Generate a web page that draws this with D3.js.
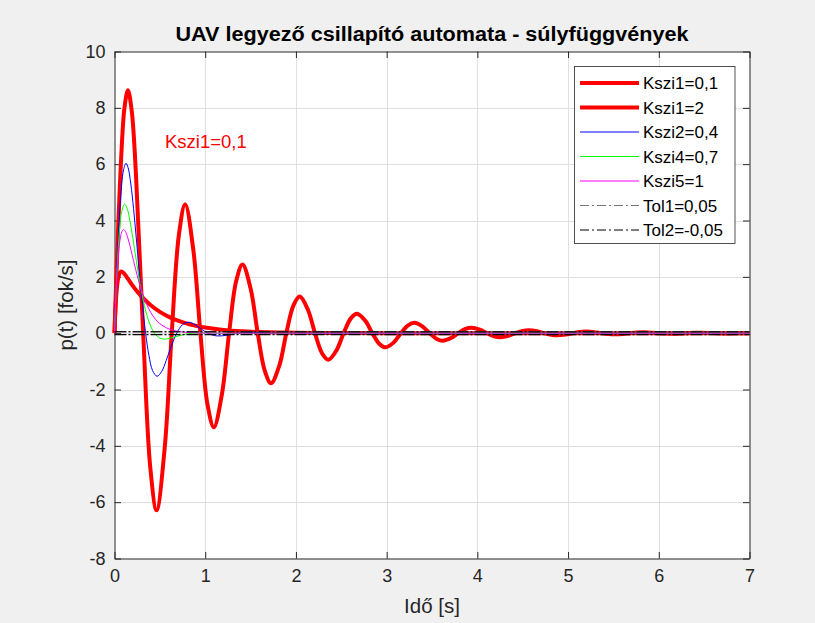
<!DOCTYPE html>
<html>
<head>
<meta charset="utf-8">
<script src="https://cdn.jsdelivr.net/npm/d3@7/dist/d3.min.js"></script>
<style>
  html, body { margin: 0; padding: 0; background: #f0f0f0; }
  svg { display: block; }
  text { font-family: "Liberation Sans", Arial, Helvetica, sans-serif; }
</style>
</head>
<body>
<svg id="chart" width="815" height="623"></svg>
<script>
// Impulse responses (weight functions) of the yaw damper, sampled [t (s), p(t) (deg/s)]
const kszi1_01 = [[0,0],[0.03,2.87],[0.079,6.57],[0.11,8.0],[0.148,8.62],[0.19,7.89],[0.237,5.61],[0.316,0],
  [0.395,-4.79],[0.464,-6.29],[0.553,-4.09],[0.631,0],[0.710,3.49],[0.779,4.58],[0.868,2.98],[0.947,0],
  [1.026,-2.55],[1.095,-3.34],[1.184,-2.17],[1.263,0],[1.342,1.86],[1.411,2.44],[1.500,1.59],[1.579,0],
  [1.658,-1.35],[1.726,-1.78],[1.816,-1.16],[1.894,0],[1.973,0.99],[2.042,1.30],[2.131,0.84],[2.210,0],
  [2.289,-0.72],[2.358,-0.946],[2.447,-0.61],[2.526,0],[2.605,0.525],[2.673,0.690],[2.763,0.448],[2.842,0],
  [2.921,-0.383],[2.989,-0.503],[3.079,-0.327],[3.157,0],[3.236,0.279],[3.305,0.367],[3.394,0.239],[3.473,0],
  [3.552,-0.204],[3.620,-0.268],[3.710,-0.174],[3.789,0],[3.868,0.149],[3.936,0.195],[4.026,0.127],[4.105,0],
  [4.184,-0.109],[4.252,-0.142],[4.342,-0.093],[4.420,0],[4.499,0.079],[4.567,0.104],[4.657,0.068],[4.736,0],
  [4.815,-0.058],[4.883,-0.076],[4.973,-0.049],[5.052,0],[5.131,0.042],[5.199,0.055],[5.289,0.036],[5.368,0],
  [5.447,-0.031],[5.514,-0.040],[5.604,-0.026],[5.683,0],[5.762,0.022],[5.830,0.029],[5.920,0.019],[5.999,0],
  [6.078,-0.016],[6.146,-0.021],[6.236,-0.014],[6.315,0],[6.394,0.012],[6.461,0.016],[6.551,0.010],[6.631,0],
  [6.710,-0.009],[6.777,-0.011],[6.867,-0.007],[6.946,0],[7.0,0.002]];

const kszi1_2 = [[0,0],[0.01,0.823],[0.02,1.368],[0.03,1.722],[0.04,1.945],[0.05,2.078],[0.06,2.151],
  [0.075,2.186],[0.09,2.168],[0.11,2.102],[0.13,2.015],[0.16,1.873],[0.2,1.688],[0.25,1.478],[0.3,1.293],
  [0.4,0.989],[0.5,0.756],[0.6,0.579],[0.7,0.443],[0.8,0.339],[0.9,0.259],[1.0,0.198],[1.2,0.116],
  [1.4,0.068],[1.6,0.040],[1.8,0.023],[2.0,0.014],[2.5,0.004],[3.0,0.001],[4.0,0],[5.5,0],[7.0,0]];

const kszi2_04 = [[0,0],[0.02,1.836],[0.04,3.333],[0.06,4.486],[0.08,5.302],[0.10,5.804],[0.1265,6.03],
  [0.15,5.873],[0.18,5.295],[0.21,4.417],[0.24,3.380],[0.27,2.290],[0.30,1.256],[0.343,0],[0.38,-0.799],
  [0.42,-1.328],[0.469,-1.53],[0.52,-1.361],[0.57,-0.971],[0.62,-0.516],[0.686,0],[0.75,0.303],[0.812,0.389],
  [0.87,0.334],[0.95,0.160],[1.028,0],[1.1,-0.083],[1.155,-0.099],[1.23,-0.077],[1.371,0],[1.497,0.025],
  [1.714,0],[1.84,-0.006],[2.057,0],[3,0],[5,0],[7,0]];

const kszi4_07 = [[0,0],[0.02,1.732],[0.04,2.982],[0.06,3.822],[0.08,4.324],[0.1114,4.58],[0.14,4.421],
  [0.17,3.991],[0.20,3.418],[0.24,2.583],[0.28,1.794],[0.33,0.981],[0.38,0.408],[0.44,0],[0.5,-0.176],
  [0.551,-0.211],[0.62,-0.175],[0.70,-0.100],[0.80,-0.028],[0.88,0],[0.99,0.010],[1.2,0],[3,0],[5,0],[7,0]];

const kszi5_1 = [[0,0],[0.02,1.637],[0.04,2.681],[0.06,3.293],[0.08,3.595],[0.10,3.679],[0.12,3.614],
  [0.15,3.347],[0.18,2.975],[0.21,2.572],[0.25,2.052],[0.30,1.494],[0.35,1.057],[0.40,0.733],[0.45,0.500],
  [0.50,0.337],[0.60,0.149],[0.70,0.064],[0.80,0.027],[0.90,0.011],[1.0,0.005],[1.2,0.001],[2,0],[4,0],[7,0]];

// Tolerance band limits
const tol1 = [[0,0.05],[7,0.05]];
const tol2 = [[0,-0.05],[7,-0.05]];

const seriesNames = ["Kszi1=0,1","Kszi1=2","Kszi2=0,4","Kszi4=0,7","Kszi5=1","Tol1=0,05","Tol2=-0,05"];
const xTicks = [0,1,2,3,4,5,6,7];
const yTicks = [-8,-6,-4,-2,0,2,4,6,8,10];
const titleText = "UAV legyező csillapító automata - súlyfüggvények";
const xLabelText = "Idő [s]";
const yLabelText = "p(t) [fok/s]";
const noteText = "Kszi1=0,1";

const series = [
  { name: seriesNames[0], data: kszi1_01, color: "#ff0000", width: 4,   dash: null,       legendColor: "#ff0000", legendDash: null },
  { name: seriesNames[1], data: kszi1_2,  color: "#ff0000", width: 4,   dash: null,       legendColor: "#ff0000", legendDash: null },
  { name: seriesNames[2], data: kszi2_04, color: "#0000ff", width: 1,   dash: null,       legendColor: "#0000ff", legendDash: null },
  { name: seriesNames[3], data: kszi4_07, color: "#00ff00", width: 1,   dash: null,       legendColor: "#00ff00", legendDash: null },
  { name: seriesNames[4], data: kszi5_1,  color: "#ff00ff", width: 1,   dash: null,       legendColor: "#ff00ff", legendDash: null },
  { name: seriesNames[5], data: tol1,     color: "#1a1a1a", width: 1.3, dash: "12,2,2,2", legendColor: "#777777", legendDash: "9,3,2,3" },
  { name: seriesNames[6], data: tol2,     color: "#000000", width: 1.3, dash: "12,2,2,2", legendColor: "#000000", legendDash: "9,3,2,3" }
];

const L = 114.5, R = 749.5, T = 51.5, B = 558.5;
const x = d3.scaleLinear().domain([0, 7]).range([L, R]);
const y = d3.scaleLinear().domain([-8, 10]).range([B, T]);

const svg = d3.select("#chart");
svg.append("rect").attr("width", 815).attr("height", 623).attr("fill", "#f0f0f0");
svg.append("rect").attr("x", L).attr("y", T).attr("width", R - L).attr("height", B - T).attr("fill", "#ffffff");

// grid
const grid = svg.append("g").attr("stroke", "#dfdfdf").attr("stroke-width", 1);
grid.selectAll(".gx").data(xTicks.slice(1, -1)).join("line")
  .attr("x1", d => Math.round(x(d)) + 0.5).attr("x2", d => Math.round(x(d)) + 0.5)
  .attr("y1", T).attr("y2", B);
grid.selectAll(".gy").data(yTicks.slice(1, -1)).join("line")
  .attr("y1", d => Math.round(y(d)) + 0.5).attr("y2", d => Math.round(y(d)) + 0.5)
  .attr("x1", L).attr("x2", R);

// axes: box with inward ticks on all sides
const tickLen = 6.5;
const axisColor = "#262626";
const fmt = d => String(d);
const axB = d3.axisBottom(x).tickValues(xTicks).tickSizeInner(-tickLen).tickSizeOuter(0).tickPadding(11).tickFormat(fmt);
const axT = d3.axisTop(x).tickValues(xTicks).tickSizeInner(-tickLen).tickSizeOuter(0).tickFormat("");
const axL = d3.axisLeft(y).tickValues(yTicks).tickSizeInner(-tickLen).tickSizeOuter(0).tickPadding(9).tickFormat(fmt);
const axR = d3.axisRight(y).tickValues(yTicks).tickSizeInner(-tickLen).tickSizeOuter(0).tickFormat("");

function styleAxis(g) {
  g.select(".domain").attr("stroke", axisColor);
  g.selectAll(".tick line").attr("stroke", axisColor);
  g.selectAll(".tick text").attr("fill", axisColor).style("font-size", "18px")
    .style("font-family", "'Liberation Sans', Arial, sans-serif");
}
svg.append("g").attr("transform", `translate(0,${B})`).call(axB).call(styleAxis);
svg.append("g").attr("transform", `translate(0,${T})`).call(axT).call(styleAxis);
svg.append("g").attr("transform", `translate(${L},0)`).call(axL).call(styleAxis);
svg.append("g").attr("transform", `translate(${R},0)`).call(axR).call(styleAxis);

// curves
const line = d3.line().x(d => x(d[0])).y(d => y(d[1])).curve(d3.curveCatmullRom.alpha(0.5));
const straight = d3.line().x(d => x(d[0])).y(d => y(d[1]));
series.forEach(s => {
  svg.append("path")
    .attr("d", s.dash ? straight(s.data) : line(s.data))
    .attr("fill", "none")
    .attr("stroke", s.color)
    .attr("stroke-width", s.width)
    .attr("stroke-linejoin", "round")
    .attr("stroke-dasharray", s.dash);
});

// title and labels
svg.append("text").attr("x", (L + R) / 2).attr("y", 41).attr("text-anchor", "middle")
  .attr("font-weight", "bold").attr("font-size", 20).attr("fill", "#000")
  .attr("textLength", 513).attr("lengthAdjust", "spacingAndGlyphs").text(titleText);
svg.append("text").attr("x", (L + R) / 2).attr("y", 613).attr("text-anchor", "middle")
  .attr("font-size", 20.5).attr("fill", axisColor).text(xLabelText);
svg.append("text").attr("transform", `translate(73,${(T + B) / 2}) rotate(-90)`).attr("text-anchor", "middle")
  .attr("font-size", 20.5).attr("fill", axisColor).text(yLabelText);
svg.append("text").attr("x", 165).attr("y", 148).attr("font-size", 18.5).attr("fill", "#ff0000").text(noteText);

// legend
const lg = svg.append("g");
lg.append("rect").attr("x", 574.5).attr("y", 66.5).attr("width", 160.5).attr("height", 177)
  .attr("fill", "#ffffff").attr("stroke", axisColor).attr("stroke-width", 0.8);
series.forEach((s, i) => {
  const yy = 83 + i * 24.5;
  lg.append("line").attr("x1", 580).attr("x2", 639).attr("y1", yy).attr("y2", yy)
    .attr("stroke", s.legendColor).attr("stroke-width", s.dash ? 1.1 : s.width)
    .attr("stroke-dasharray", s.legendDash);
  lg.append("text").attr("x", 643).attr("y", yy).attr("dy", "0.36em")
    .attr("font-size", 17).attr("fill", "#000").text(s.name);
});
</script>
</body>
</html>
